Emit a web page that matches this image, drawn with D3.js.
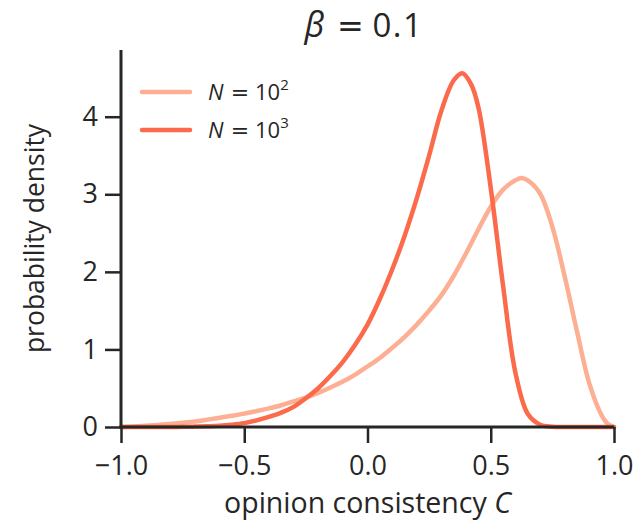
<!DOCTYPE html>
<html>
<head>
<meta charset="utf-8">
<script src="https://cdn.jsdelivr.net/npm/d3@7"></script>
<style>
  html, body { margin: 0; padding: 0; background: #ffffff; }
  svg text { font-family: "Open Sans", "Noto Sans", sans-serif; fill: #262626; }
</style>
</head>
<body>
<svg id="chart" width="636" height="522"></svg>
<script>
// Opinion consistency grid and estimated densities for each system size
const cN100 = [-1.00, -0.95, -0.90, -0.85, -0.80, -0.75, -0.70, -0.65, -0.60, -0.55,
               -0.50, -0.45, -0.40, -0.35, -0.30, -0.25, -0.20, -0.15, -0.10, -0.05,
               0.00, 0.05, 0.10, 0.15, 0.20, 0.25, 0.30, 0.35, 0.40, 0.45,
               0.50, 0.55, 0.60, 0.625, 0.65, 0.70, 0.75, 0.80, 0.85, 0.90,
               0.95, 0.975, 1.00];
const densityN100 = [0, 0.006, 0.015, 0.026, 0.04, 0.055, 0.072, 0.095, 0.12, 0.145,
                     0.172, 0.205, 0.24, 0.28, 0.33, 0.38, 0.44, 0.51, 0.585, 0.675,
                     0.78, 0.89, 1.02, 1.16, 1.32, 1.50, 1.70, 1.95, 2.24, 2.55,
                     2.84, 3.06, 3.18, 3.21, 3.18, 3.01, 2.58, 1.94, 1.23, 0.56,
                     0.15, 0.04, 0];

const cN1000 = [-1.00, -0.95, -0.90, -0.85, -0.80, -0.75, -0.70, -0.65, -0.60, -0.55,
                -0.50, -0.45, -0.40, -0.35, -0.30, -0.25, -0.20, -0.15, -0.10, -0.05,
                0.00, 0.05, 0.10, 0.15, 0.20, 0.25, 0.30, 0.35, 0.385, 0.42,
                0.45, 0.50, 0.55, 0.60, 0.65, 0.70, 0.75, 0.80, 0.85, 0.90,
                0.95, 1.00];
const densityN1000 = [0, 0, 0, 0, 0.001, 0.002, 0.005, 0.01, 0.017, 0.03,
                      0.05, 0.085, 0.13, 0.185, 0.26, 0.37, 0.50, 0.66, 0.84, 1.06,
                      1.32, 1.65, 2.03, 2.46, 2.95, 3.50, 4.08, 4.47, 4.56, 4.42,
                      4.12, 3.08, 1.82, 0.70, 0.17, 0.03, 0.004, 0, 0, 0,
                      0, 0];

const xTicks = [-1.0, -0.5, 0.0, 0.5, 1.0];
const yTicks = [0, 1, 2, 3, 4];
const seriesNames = ["2", "3"];            // exponents of N = 10^k
const seriesColors = ["#fcaf93", "#fb6a4a"];

const series = [
  { exp: seriesNames[0], color: seriesColors[0], c: cN100, d: densityN100 },
  { exp: seriesNames[1], color: seriesColors[1], c: cN1000, d: densityN1000 }
];

const svg = d3.select("#chart");
const margin = { left: 121, right: 22, top: 50, bottom: 95 };
const W = 636, H = 522;
const axisColor = "#262626";

const x = d3.scaleLinear().domain([-1, 1]).range([margin.left, W - margin.right]);
const y = d3.scaleLinear().domain([0, 4.86]).range([H - margin.bottom, margin.top]);

// Density curves
const line = d3.line()
  .x(p => x(p[0]))
  .y(p => y(Math.max(0, p[1])))
  .curve(d3.curveCatmullRom.alpha(0.5));

svg.append("g").selectAll("path")
  .data(series)
  .join("path")
  .attr("d", s => line(s.c.map((v, i) => [v, s.d[i]])))
  .attr("fill", "none")
  .attr("stroke", s => s.color)
  .attr("stroke-width", 4.5)
  .attr("stroke-linejoin", "round")
  .attr("stroke-linecap", "round");

// Axes
const xAxis = svg.append("g")
  .attr("transform", `translate(0,${y(0)})`)
  .call(d3.axisBottom(x).tickValues(xTicks).tickSize(16).tickPadding(13)
        .tickFormat(v => d3.format(".1f")(v).replace("-", "\u2212")));
const yAxis = svg.append("g")
  .attr("transform", `translate(${x(-1)},0)`)
  .call(d3.axisLeft(y).tickValues(yTicks).tickSize(16).tickPadding(7)
        .tickFormat(d3.format("d")));

[xAxis, yAxis].forEach(g => {
  g.select(".domain").attr("stroke", axisColor).attr("stroke-width", 3);
  g.selectAll(".tick line").attr("stroke", axisColor).attr("stroke-width", 2.5);
  g.selectAll(".tick text")
    .attr("fill", axisColor)
    .style("font-size", "27px")
    .style("font-family", "'Open Sans', sans-serif");
});
// Spines without end caps drawn by the axis generator
xAxis.select(".domain").attr("d", `M${x(-1)},0H${x(1)}`);
yAxis.select(".domain").attr("d", `M0,${y(0)}V${y.range()[1]}`);

// Axis labels
svg.append("text")
  .attr("x", (x(-1) + x(1)) / 2)
  .attr("y", 513)
  .attr("text-anchor", "middle")
  .style("font-size", "28.5px")
  .text("opinion consistency ")
  .append("tspan")
  .style("font-style", "italic")
  .text("C");

svg.append("text")
  .attr("transform", `translate(44,${(y(0) + y.range()[1]) / 2}) rotate(-90)`)
  .attr("text-anchor", "middle")
  .style("font-size", "26.5px")
  .text("probability density");

// Title
const cx = (x(-1) + x(1)) / 2;
const title = svg.append("g").attr("transform", `translate(${cx},37)`);
title.append("text").attr("x", -63).style("font-size", "34px")
  .style("font-style", "italic").text("\u03b2");
title.append("text").attr("x", -17).attr("text-anchor", "middle")
  .style("font-size", "32px").style("font-family", "'DejaVu Sans', sans-serif").text("=");
title.append("text").attr("x", 5).style("font-size", "33px")
  .style("letter-spacing", "1.5px").text("0.1");

// Legend
const legend = svg.append("g");
series.forEach((s, i) => {
  const ly = 92 + i * 38;
  legend.append("line")
    .attr("x1", 142).attr("x2", 190)
    .attr("y1", ly).attr("y2", ly)
    .attr("stroke", s.color).attr("stroke-width", 4.5)
    .attr("stroke-linecap", "round");
  const t = legend.append("g").attr("transform", `translate(208,${ly + 8})`);
  t.append("text").style("font-size", "22px").style("font-style", "italic").text("N");
  t.append("text").attr("x", 32).attr("text-anchor", "middle")
    .style("font-size", "22px").style("font-family", "'DejaVu Sans', sans-serif").text("=");
  const num = t.append("text").attr("x", 47).style("font-size", "22px").text("10");
  num.append("tspan").attr("dy", -10).style("font-size", "15px").text(s.exp);
});
</script>
</body>
</html>
